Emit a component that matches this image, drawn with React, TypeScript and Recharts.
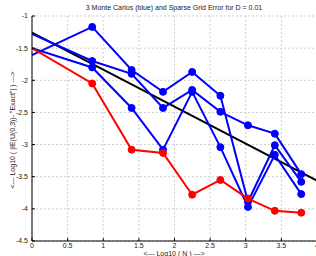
import React from 'react';
import { LineChart, Line, XAxis, YAxis, CartesianGrid } from 'recharts';

// log10(N) for each sparse grid / sample size
const logN = [0, 0.845, 1.398, 1.839, 2.248, 2.644, 3.031, 3.408, 3.779];

// three Monte Carlo runs (blue)
const mc1 = [-1.61, -1.17, -1.84, -2.18, -1.87, -2.24, -3.89, -3.01, -3.58];
const mc2 = [-1.28, -1.70, -1.90, -2.43, -2.15, -2.49, -2.70, -2.83, -3.46];
const mc3 = [-1.50, -1.80, -2.43, -3.08, -2.18, -3.04, -3.97, -3.16, -3.77];

// sparse grid error (red)
const sparse = [-1.50, -2.05, -3.08, -3.13, -3.78, -3.55, -3.84, -4.03, -4.06];

// black reference line
const fitX = [0, 4];
const fitY = [-1.26, -3.56];

const xTicks = [0, 0.5, 1, 1.5, 2, 2.5, 3, 3.5, 4];
const yTicks = [-4.5, -4, -3.5, -3, -2.5, -2, -1.5, -1];

const tableData = logN.map((x, i) => ({
  x,
  mc1: mc1[i],
  mc2: mc2[i],
  mc3: mc3[i],
  sparse: sparse[i],
}));
const fitData = fitX.map((x, i) => ({ x, fit: fitY[i] }));

const FONT = '"Liberation Sans", Arial, sans-serif';
const BLUE = '#0000ff';
const RED = '#ff0000';

const tickStyle = { fontSize: 7, fill: '#222', fontFamily: FONT };

// marker on every point except the one sitting on the y axis
const makeDot = (color: string) => (props: any) => {
  const { cx, cy, index } = props;
  if (index === 0 || cx == null || cy == null) return <g key={`d${index}`} />;
  return <circle key={`d${index}`} cx={cx} cy={cy} r={3.5} fill={color} stroke={color} strokeWidth={1} />;
};

export default function App() {
  return (
    <div
      style={{
        position: 'absolute',
        left: 0,
        top: 0,
        width: 316,
        height: 256,
        overflow: 'hidden',
        background: '#fff',
        fontFamily: FONT,
      }}
    >
      <div
        style={{
          position: 'absolute',
          left: 0,
          width: 348,
          top: 4,
          textAlign: 'center',
          fontSize: 7,
          color: '#222',
          whiteSpace: 'nowrap',
        }}
      >
        3 Monte Carlos (blue) and Sparse Grid Error for D = 0.01
      </div>
      <LineChart
        width={320}
        height={256}
        margin={{ top: 16, right: 3, bottom: 0, left: 0 }}
      >
        <CartesianGrid stroke="#cfcfcf" strokeDasharray="2 2" />
        <XAxis
          type="number"
          dataKey="x"
          domain={[0, 4]}
          ticks={xTicks}
          allowDataOverflow
          height={15}
          tick={tickStyle}
          tickSize={-3}
          tickMargin={5}
          stroke="#000"
          interval={0}
        />
        <YAxis
          type="number"
          domain={[-4.5, -1]}
          ticks={yTicks}
          width={32}
          tick={tickStyle}
          tickSize={-3}
          tickMargin={7}
          stroke="#000"
          interval={0}
        />
        <Line
          data={fitData}
          dataKey="fit"
          stroke="#000"
          strokeWidth={2}
          dot={false}
          isAnimationActive={false}
        />
        {['mc1', 'mc2', 'mc3'].map((k) => (
          <Line
            key={k}
            data={tableData}
            dataKey={k}
            stroke={BLUE}
            strokeWidth={2}
            dot={makeDot(BLUE)}
            isAnimationActive={false}
          />
        ))}
        <Line
          data={tableData}
          dataKey="sparse"
          stroke={RED}
          strokeWidth={2}
          dot={makeDot(RED)}
          isAnimationActive={false}
        />
      </LineChart>
      <div
        style={{
          position: 'absolute',
          left: 12,
          top: 130,
          transform: 'translate(-50%, -50%) rotate(-90deg)',
          fontSize: 7,
          color: '#222',
          whiteSpace: 'nowrap',
        }}
      >
        {'<--- Log10 ( |IE(U(0,3))- "Exact"| ) --->'}
      </div>
      <div
        style={{
          position: 'absolute',
          left: 0,
          width: 348,
          top: 250,
          textAlign: 'center',
          fontSize: 7,
          color: '#222',
          whiteSpace: 'nowrap',
        }}
      >
        {'<--- Log10 ( N ) --->'}
      </div>
    </div>
  );
}
